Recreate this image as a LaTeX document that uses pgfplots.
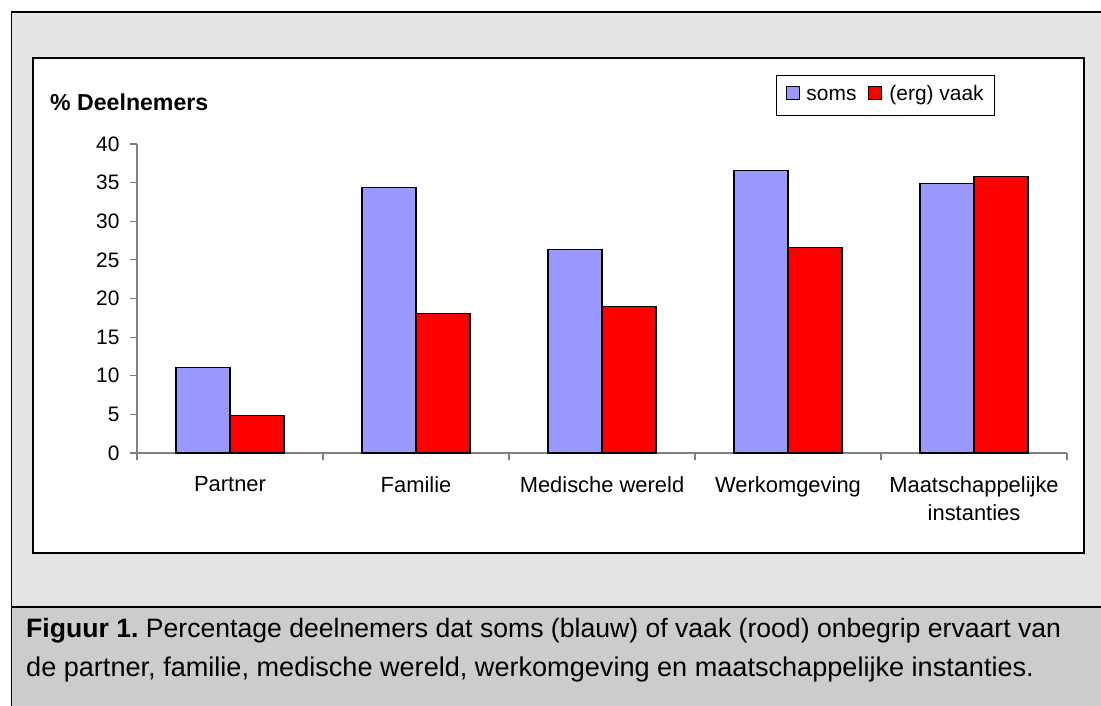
\documentclass[border=0pt]{standalone}
\usepackage{fontspec}
\setmainfont{Liberation Sans}
\usepackage{pgfplots}
\pgfplotsset{compat=1.18}
\definecolor{somsblue}{HTML}{9999FF}
\definecolor{vaakred}{HTML}{FF0000}
\definecolor{bgupper}{HTML}{E5E5E5}
\definecolor{bglower}{HTML}{CCCCCC}
\definecolor{axisgray}{HTML}{808080}

\begin{document}
\frenchspacing
\begin{tikzpicture}
\begin{scope}[x=1bp,y=1bp]
\path[use as bounding box] (0,0) rectangle (1101,706);
\fill[white] (0,0) rectangle (1101,706);
\fill[bgupper] (11.5,99) rectangle (1101,694);
\fill[bglower] (11.5,0) rectangle (1101,99);
\draw[black,line width=1.5bp] (11.5,0) -- (11.5,694) -- (1101,694);
\draw[black,line width=1.5bp] (11.5,99) -- (1101,99);
\draw[black,line width=1.2bp,fill=white] (33,153) rectangle (1084,648);
\node[anchor=base west, font=\fontsize{26.7}{30}\selectfont, inner sep=0pt] at (26,68) {\textbf{Figuur 1.} Percentage deelnemers dat soms (blauw) of vaak (rood) onbegrip ervaart van};
\node[anchor=base west, font=\fontsize{27.2}{30}\selectfont, inner sep=0pt] at (26,29.5) {de partner, familie, medische wereld, werkomgeving en maatschappelijke instanties.};
\end{scope}

\begin{axis}[
  at={(137bp,253bp)}, anchor=south west,
  scale only axis, width=930bp, height=309bp,
  xmin=-0.5, xmax=4.5, ymin=0, ymax=40,
  enlarge x limits=false,
  ybar=0pt, bar width=54bp,
  axis x line*=bottom, axis y line*=left,
  axis line style={-, axisgray, line width=1.2bp},
  tick style={axisgray, line width=1.2bp},
  major tick length=7bp, tick align=outside,
  ytick={0,5,...,40},
  yticklabel style={font=\fontsize{21}{24}\selectfont, xshift=-7bp},
  /pgf/number format/assume math mode=true,
  xtick={-0.5,0.5,1.5,2.5,3.5,4.5},
  xticklabels={},
  extra x ticks={0,1,2,3,4},
  extra x tick labels={Partner, Familie, Medische wereld, Werkomgeving, {Maatschappelijke\\instanties}},
  extra x tick style={major tick length=0pt, tick style={draw=none},
     xticklabel style={align=center, font=\fontsize{22}{28}\selectfont, yshift=-20bp}},
  ylabel={\textbf{\% Deelnemers}},
  every axis y label/.style={at={(rel axis cs:-0.0935,1.136)}, anchor=west, inner sep=0pt, font=\fontsize{23.2}{26}\selectfont},
  legend style={at={(0.9226,1.223)}, anchor=north east, legend columns=2,
     draw=black, line width=0.8bp, fill=white, font=\fontsize{21}{24}\selectfont,
     inner xsep=9bp, inner ysep=8bp,
     nodes={text height=15bp, text depth=4.5bp},
     /tikz/every odd column/.append style={column sep=5bp},
     /tikz/every even column/.append style={column sep=10bp}},
  legend image code/.code={\draw[#1, draw=black, line width=1bp] (0bp,-4bp) rectangle (13bp,9bp);},
  clip=false,
]
\addplot[fill=somsblue, draw=black, line width=1.2bp] coordinates {(0,11.1) (1,34.4) (2,26.3) (3,36.6) (4,34.9)};
\addplot[fill=vaakred, draw=black, line width=1.2bp] coordinates {(0,4.9) (1,18.1) (2,19.0) (3,26.6) (4,35.8)};
\legend{soms, (erg) vaak}
\end{axis}
\end{tikzpicture}
\end{document}
